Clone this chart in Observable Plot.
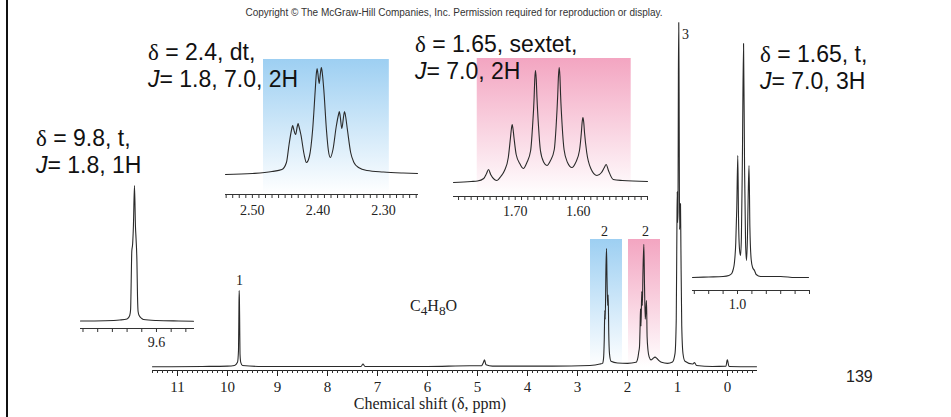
<!DOCTYPE html>
<html><head><meta charset="utf-8">
<script src="https://cdn.jsdelivr.net/npm/d3@7"></script>
<script src="https://cdn.jsdelivr.net/npm/@observablehq/plot@0.6"></script>
<style>
html,body{margin:0;padding:0;background:#fff;}
#wrap{position:relative;width:951px;height:417px;overflow:hidden;font-family:"Liberation Sans",Arial,sans-serif;background:#fff;}
.note{position:absolute;font-size:23px;line-height:27px;color:#111;white-space:nowrap;}
.note .d{font-family:"Liberation Serif","Times New Roman",serif;}
.note i{font-style:italic;}
.serif{font-family:"Liberation Serif","Times New Roman",serif;}
#border{position:absolute;left:6px;top:0;width:2px;height:417px;background:#111;}
</style></head><body>
<svg width="0" height="0" style="position:absolute"><defs>
<linearGradient id="gBlue" x1="0" y1="0" x2="0" y2="1"><stop offset="0" stop-color="#9dcff2"/><stop offset="1" stop-color="#ffffff"/></linearGradient>
<linearGradient id="gPink" x1="0" y1="0" x2="0" y2="1"><stop offset="0" stop-color="#f3a5c1"/><stop offset="1" stop-color="#ffffff"/></linearGradient>
</defs></svg>
<div id="wrap"><div id="border"></div></div>
<script>
// ---------- DATA (ppm, relative intensity) ----------
const mainSpectrum = [
 [11.5,0.2],[10.5,0.3],[10.0,0.4],[9.86,0.6],[9.80,1.5],[9.78,5],[9.772,16],[9.767,22.3],[9.762,20],[9.757,14],[9.75,4],[9.735,1.5],[9.7,0.6],
 [9.3,0.3],[8.0,0.3],[7.33,0.3],[7.29,1.0],[7.25,0.3],[6.0,0.3],[5.15,0.5],[4.92,0.5],[4.88,1.5],[4.86,2.2],[4.83,0.8],[4.7,0.4],[3.5,0.4],
 [2.75,0.6],[2.55,1.0],[2.5,1.2],[2.48,2.5],[2.465,8],[2.454,16.5],[2.445,14],[2.432,28],[2.42,34.5],[2.41,26],[2.397,18],[2.386,21],[2.375,10],[2.36,4],[2.33,1.8],
 [2.2,1.3],[2.0,1.2],[1.83,1.5],[1.79,3],[1.775,4.5],[1.76,6],[1.748,12],[1.74,17],[1.73,12],[1.715,22],[1.703,18],[1.69,28],[1.673,35.7],[1.66,24],
 [1.645,14],[1.632,17],[1.62,19.4],[1.608,9],[1.59,5],[1.565,3],[1.53,2.2],[1.49,2.6],[1.45,3],[1.41,2.6],[1.37,2],[1.32,1.5],[1.2,1.2],
 [1.1,1.6],[1.05,4],[1.025,14],[1.012,40],[1.005,51],[0.998,42],[0.99,45],[0.982,85],[0.975,100],[0.968,80],[0.958,40],[0.948,44],[0.94,47.5],
 [0.932,35],[0.915,12],[0.89,4],[0.85,1.8],[0.7,1],[0.66,1.4],[0.62,0.6],[0.3,0.3],[0.03,0.4],[0.01,2],[0.0,2.2],[-0.01,1.5],[-0.03,0.3],[-0.58,0.2]
];
const aldehydeInset = [
 [10.117,0.5],[9.95,0.8],[9.85,1.5],[9.80,2.5],[9.782,6],[9.776,12],[9.772,40],[9.768,70],[9.762,78],[9.757,95],[9.7497,136],
 [9.743,95],[9.739,83],[9.733,60],[9.729,25],[9.725,10],[9.718,6],[9.70,3],[9.688,2],[9.60,1],[9.45,0.5],[9.348,0.3]
];
const dtInset = [
 [2.541,0],[2.50,1],[2.47,3],[2.455,5],[2.448,12],[2.444,30],[2.4398,46],[2.4385,49],[2.4372,46],[2.434,40],[2.4315,48],[2.4302,51],
 [2.4289,48],[2.426,40],[2.421,20],[2.4176,12],[2.413,18],[2.408,45],[2.404,85],[2.4025,100],[2.4012,106],[2.4,101],[2.398,91],
 [2.3962,101],[2.3947,107],[2.3932,101],[2.391,85],[2.387,45],[2.384,24],[2.381,17],[2.377,25],[2.372,48],[2.3685,60],[2.3672,63],
 [2.3659,58],[2.3635,46],[2.3608,58],[2.3595,63],[2.3582,60],[2.355,45],[2.35,22],[2.345,12],[2.338,7],[2.325,4],[2.30,2.5],[2.27,1.5],[2.248,1]
];
const sextetInset = [
 [1.798,0],[1.77,1],[1.76,1.5],[1.75,4],[1.7455,9],[1.7424,13],[1.739,8],[1.733,3],[1.729,2],[1.723,6],[1.717,12],[1.711,25],[1.7075,45],
 [1.706,54],[1.7048,58],[1.7036,54],[1.702,45],[1.6985,28],[1.692,18],[1.6873,14],[1.6815,20],[1.6755,32],[1.6725,56],[1.670,85],
 [1.669,103],[1.6678,112],[1.6666,103],[1.6655,85],[1.663,56],[1.66,32],[1.6545,20],[1.6497,17],[1.644,22],[1.638,33],[1.635,57],
 [1.6325,88],[1.6314,106],[1.6302,115],[1.629,106],[1.628,88],[1.6255,57],[1.6225,33],[1.617,20],[1.61,15],[1.604,20],[1.598,32],
 [1.595,50],[1.5938,60],[1.5925,65],[1.5912,60],[1.59,50],[1.5865,30],[1.58,14],[1.5703,7],[1.563,10],[1.5585,15],[1.5556,18],
 [1.552,12],[1.5444,3],[1.53,2],[1.49,1]
];
const tripletInset = [
 [1.3125,0],[1.2,0.5],[1.1,1],[1.06,2],[1.04,4],[1.03,8],[1.022,14],[1.012,35],[1.005,70],[0.998,122],[0.993,60],[0.986,28],[0.979,22],
 [0.973,40],[0.966,120],[0.958,234],[0.951,110],[0.944,35],[0.9375,17],[0.931,40],[0.926,80],[0.92,112],[0.914,50],[0.905,18],
 [0.895,10],[0.882,7],[0.87,3],[0.84,1],[0.7,1],[0.6,0],[0.507,0]
];
// highlighted regions
const mainBlue = [{x1:2.74, x2:2.10, y1:0, y2:37.1}];
const mainPink = [{x1:1.98, x2:1.34, y1:0, y2:37.1}];
const insetBlue = [{x1:2.483, x2:2.291, y2:115}];
const insetPink = [{x1:1.7603, x2:1.5159, y2:124}];
// integration labels
const integrals = [
 {ppm:9.76, h:25.2, label:"1"},
 {ppm:2.46, h:39.4, label:"2"},
 {ppm:1.64, h:39.4, label:"2"},
 {ppm:0.84, h:96.5, label:"3"}
];
// tick labels
const mainTickLabels = [11,10,9,8,7,6,5,4,3,2,1,0];
const aTicks = [10.1,10.0,9.9,9.8,9.7,9.6,9.5,9.4], aLabels = [9.6];
const bLabels = [2.50,2.40,2.30];
const cLabels = [1.70,1.60];
const dTicks = [1.3,1.2,1.1,1.0,0.9,0.8,0.7,0.6,0.5], dLabels = [1.0];

const wrap = document.getElementById("wrap");
const lineColor = "#2a2a2a";
function place(svg, left, top) {
  svg.style.position = "absolute";
  svg.style.left = left + "px";
  svg.style.top = top + "px";
  wrap.appendChild(svg);
}
function labelFmt(labels, digits) {
  return d => labels.some(l => Math.abs(l - d) < 1e-6) ? d.toFixed(digits) : "";
}

// ---------- MAIN SPECTRUM ----------
{
  const mL = 152, mR = 951 - 756, mT = 22, mB = 417 - 370;
  const ppu = (367 - 22) / 100;
  const yMin = -(370 - 367) / ppu;
  const svg = Plot.plot({
    width: 951, height: 417,
    marginLeft: mL, marginRight: mR, marginTop: mT, marginBottom: mB,
    style: {background: "transparent", overflow: "visible", fontFamily: "Liberation Serif, serif", color: "#222"},
    x: {domain: [11.5, -0.58]},
    y: {domain: [yMin, 100], axis: null},
    marks: [
      Plot.rect(mainBlue, {x1: "x1", x2: "x2", y1: "y1", y2: "y2", fill: "url(#gBlue)"}),
      Plot.rect(mainPink, {x1: "x1", x2: "x2", y1: "y1", y2: "y2", fill: "url(#gPink)"}),
      Plot.line(mainSpectrum, {x: d => d[0], y: d => d[1], stroke: lineColor, strokeWidth: 1.1, curve: "monotone-x"}),
      Plot.text(integrals, {x: "ppm", y: "h", text: "label", fontSize: 14, fontFamily: "Liberation Serif, serif", fill: "#222"}),
      Plot.frame({anchor: "bottom", stroke: "#222"}),
      Plot.axisX({ticks: d3.range(-5, 116).map(i => i / 10), tickSize: 3, tickFormat: () => "", label: null, stroke: "#333"}),
      Plot.axisX({ticks: mainTickLabels, tickSize: 6, tickPadding: 5, tickFormat: d => String(d), label: null, fontSize: 15, fontFamily: "Liberation Serif, serif", fill: "#222"})
    ]
  });
  place(svg, 0, 0);
}

// ---------- INSETS ----------
function inset({data, domain, box, ticks, fmt, tickPadding, rect, rectFill}) {
  const mL = 3, mR = 3, mT = 16, mB = 28;
  const ppu = (box.baseline - box.top) / box.yMax;
  const yMin = -(box.axisY - box.baseline) / ppu;
  const width = box.x1 - box.x0 + mL + mR;
  const height = box.axisY - box.top + mT + mB;
  const marks = [];
  if (rect) marks.push(Plot.rect(rect, {x1: "x1", x2: "x2", y1: () => yMin, y2: "y2", fill: rectFill}));
  marks.push(
    Plot.line(data, {x: d => d[0], y: d => d[1], stroke: lineColor, strokeWidth: 1.1, curve: "monotone-x"}),
    Plot.frame({anchor: "bottom", stroke: "#333"}),
    Plot.axisX({ticks, tickSize: 4, tickPadding, tickFormat: fmt, label: null, fontSize: 14, fontFamily: "Liberation Serif, serif", fill: "#222", stroke: "#333"})
  );
  const svg = Plot.plot({
    width, height, marginLeft: mL, marginRight: mR, marginTop: mT, marginBottom: mB,
    style: {background: "transparent", overflow: "visible", color: "#222"},
    x: {domain},
    y: {domain: [yMin, box.yMax], axis: null},
    marks
  });
  place(svg, box.x0 - mL, box.top - mT);
}

inset({data: aldehydeInset, domain: [10.117, 9.348],
  box: {x0: 80, x1: 193, top: 185, baseline: 321, axisY: 328, yMax: 136},
  ticks: aTicks, fmt: labelFmt(aLabels, 1), tickPadding: 5});
inset({data: dtInset, domain: [2.541, 2.248],
  box: {x0: 225, x1: 417, top: 67, baseline: 174, axisY: 194, yMax: 107},
  ticks: d3.range(225, 255).map(i => i / 100), fmt: labelFmt(bLabels, 2), tickPadding: 7,
  rect: insetBlue, rectFill: "url(#gBlue)"});
inset({data: sextetInset, domain: [1.798, 1.49],
  box: {x0: 453, x1: 647, top: 67, baseline: 182, axisY: 196, yMax: 115},
  ticks: d3.range(149, 180).map(i => i / 100), fmt: labelFmt(cLabels, 2), tickPadding: 6,
  rect: insetPink, rectFill: "url(#gPink)"});
inset({data: tripletInset, domain: [1.3125, 0.507],
  box: {x0: 692, x1: 808, top: 43, baseline: 277, axisY: 290, yMax: 234},
  ticks: dTicks, fmt: labelFmt(dLabels, 1), tickPadding: 5});

// ---------- TEXT ----------
function addDiv(html, cls, style) {
  const el = document.createElement("div");
  el.className = cls;
  el.innerHTML = html;
  Object.assign(el.style, style);
  wrap.appendChild(el);
  return el;
}
const notes = [
  {lines: ['<span class="d">δ</span> = 9.8, t,', '<i>J</i>= 1.8, 1H'], left: 36, top: 125},
  {lines: ['<span class="d">δ</span> = 2.4, dt,', '<i>J</i>= 1.8, 7.0, 2H'], left: 148, top: 39},
  {lines: ['<span class="d">δ</span> = 1.65, sextet,', '<i>J</i>= 7.0, 2H'], left: 415, top: 31},
  {lines: ['<span class="d">δ</span> = 1.65, t,', '<i>J</i>= 7.0, 3H'], left: 760, top: 41}
];
notes.forEach(n => addDiv(n.lines.join("<br>"), "note", {left: n.left + "px", top: n.top + "px"}));

addDiv('C<sub>4</sub>H<sub>8</sub>O', "serif", {position: "absolute", left: "410px", top: "296px", fontSize: "16px", color: "#222", lineHeight: "20px"});
addDiv('Chemical shift (δ, ppm)', "serif", {position: "absolute", left: "330px", width: "200px", textAlign: "center", top: "395px", fontSize: "16px", color: "#222", lineHeight: "18px"});
addDiv('Copyright © The McGraw-Hill Companies, Inc. Permission required for reproduction or display.', "", {position: "absolute", left: "0", width: "908px", textAlign: "center", top: "6px", fontSize: "10px", color: "#333", lineHeight: "13px"});
addDiv('139', "", {position: "absolute", left: "846px", top: "367px", fontSize: "16px", color: "#222", lineHeight: "20px"});
</script>
</body></html>
